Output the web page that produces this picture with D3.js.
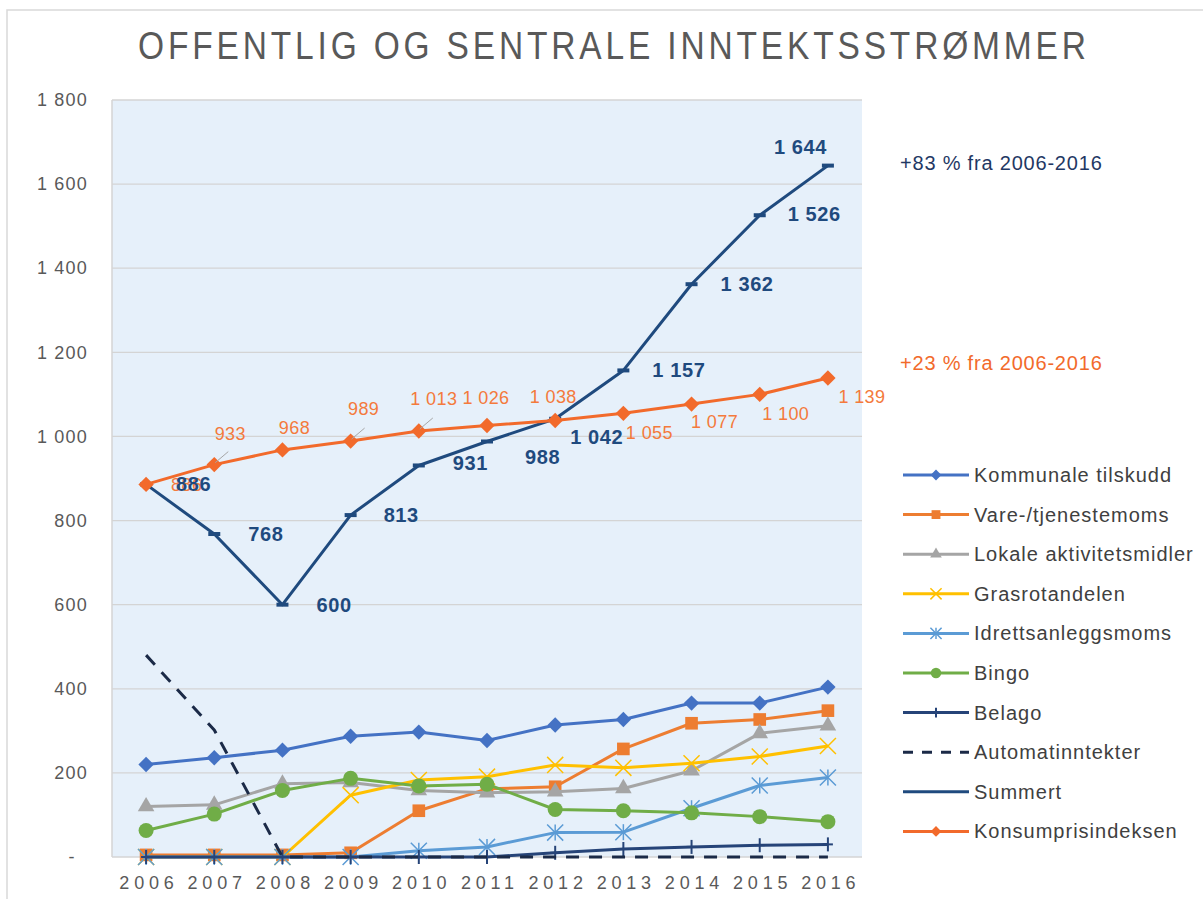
<!DOCTYPE html>
<html>
<head>
<meta charset="utf-8">
<script src="https://cdn.jsdelivr.net/npm/d3@7"></script>
<style>
  body { margin: 0; background: #fff; }
  svg { display: block; font-family: "Liberation Sans", Arial, sans-serif; }
</style>
</head>
<body>
<svg id="chart" width="1203" height="899"></svg>
<script>
// --- data ---
const years = [2006, 2007, 2008, 2009, 2010, 2011, 2012, 2013, 2014, 2015, 2016];

const kommunaleTilskudd = [220, 236, 254, 287, 297, 277, 314, 327, 366, 366, 404];
const vareTjenestemoms = [5, 5, 5, 10, 110, 162, 167, 257, 318, 327, 348];
const lokaleAktivitetsmidler = [120, 124, 174, 177, 158, 153, 155, 163, 205, 294, 312];
const grasrotandelen = [0, 0, 0, 147, 183, 191, 219, 212, 223, 239, 264];
const idrettsanleggsmoms = [0, 0, 0, 0, 15, 24, 58, 59, 116, 170, 189];
const bingo = [63, 102, 158, 187, 169, 173, 113, 110, 105, 96, 84];
const belago = [0, 0, 0, 0, 0, 0, 10, 19, 24, 28, 30];
const automatinntekter = [480, 302, 0, 0, 0, 0, 0, 0, 0, 0, 0];
const summert = [886, 768, 600, 813, 931, 988, 1042, 1157, 1362, 1526, 1644];
const konsumprisindeksen = [886, 933, 968, 989, 1013, 1026, 1038, 1055, 1077, 1100, 1139];

const yTicks = [0, 200, 400, 600, 800, 1000, 1200, 1400, 1600, 1800];

const series = [
    { name: "Kommunale tilskudd", values: kommunaleTilskudd, color: "#4472C4", marker: "diamond" },
    { name: "Vare-/tjenestemoms", values: vareTjenestemoms, color: "#ED7D31", marker: "square" },
    { name: "Lokale aktivitetsmidler", values: lokaleAktivitetsmidler, color: "#A5A5A5", marker: "triangle" },
    { name: "Grasrotandelen", values: grasrotandelen, color: "#FFC000", marker: "times" },
    { name: "Idrettsanleggsmoms", values: idrettsanleggsmoms, color: "#5B9BD5", marker: "star" },
    { name: "Bingo", values: bingo, color: "#70AD47", marker: "circle" },
    { name: "Belago", values: belago, color: "#264478", marker: "plus" },
    { name: "Automatinntekter", values: automatinntekter, color: "#1B2A47", marker: "none", dash: "13,10" },
    { name: "Summert", values: summert, color: "#1F4A7E", marker: "dash" },
    { name: "Konsumprisindeksen", values: konsumprisindeksen, color: "#F26A2B", marker: "diamond" }
];

// --- layout ---
let svg = d3.select("#chart");

const plot = { left: 112, right: 862, top: 100, bottom: 857 };

let x = d3.scalePoint()
    .domain(years)
    .range([plot.left, plot.right])
    .padding(0.5);

let y = d3.scaleLinear()
    .domain([0, 1800])
    .range([plot.bottom, plot.top]);

const numFmt = function (v) {
    return d3.format(",")(v).replace(/,/g, " ");
};

// outer chart border
svg.append("rect")
    .attr("x", 7)
    .attr("y", 10)
    .attr("width", 1220)
    .attr("height", 920)
    .attr("fill", "none")
    .attr("stroke", "#D9D9D9")
    .attr("stroke-width", 1.5);

// title (narrow glyphs, some tracking)
svg.append("text")
    .attr("transform", "translate(612,59) scale(0.86,1)")
    .attr("text-anchor", "middle")
    .attr("font-size", 39)
    .attr("fill", "#595959")
    .attr("textLength", 948 / 0.86)
    .attr("lengthAdjust", "spacing")
    .text("OFFENTLIG OG SENTRALE INNTEKTSSTRØMMER");

// plot background
svg.append("rect")
    .attr("x", plot.left)
    .attr("y", plot.top)
    .attr("width", plot.right - plot.left)
    .attr("height", plot.bottom - plot.top)
    .attr("fill", "#E6F0FA");

// gridlines
svg.append("g")
    .selectAll("line")
    .data(yTicks.filter(function (d) { return d > 0; }))
    .join("line")
    .attr("x1", plot.left)
    .attr("x2", plot.right)
    .attr("y1", function (d) { return y(d); })
    .attr("y2", function (d) { return y(d); })
    .attr("stroke", "#D4D4D4")
    .attr("stroke-width", 1.3);

// axis lines
svg.append("line")
    .attr("x1", plot.left).attr("x2", plot.left)
    .attr("y1", plot.top).attr("y2", plot.bottom)
    .attr("stroke", "#D4D4D4").attr("stroke-width", 1.5);
svg.append("line")
    .attr("x1", plot.left).attr("x2", plot.right)
    .attr("y1", plot.bottom).attr("y2", plot.bottom)
    .attr("stroke", "#D4D4D4").attr("stroke-width", 1.5);

// y axis labels
let yAxis = d3.axisLeft(y)
    .tickValues(yTicks)
    .tickSize(0)
    .tickPadding(0)
    .tickFormat(function (d) { return d === 0 ? "-  " : numFmt(d); });

let yg = svg.append("g")
    .attr("transform", "translate(88,0)")
    .call(yAxis);
yg.select(".domain").remove();
yg.selectAll("text")
    .attr("font-size", 18)
    .attr("font-family", "Liberation Sans, Arial, sans-serif")
    .attr("letter-spacing", 1.2)
    .attr("fill", "#595959")
    .style("white-space", "pre");

// x axis labels
let xAxis = d3.axisBottom(x)
    .tickSize(0)
    .tickPadding(0);

let xg = svg.append("g")
    .attr("transform", "translate(0," + plot.bottom + ")")
    .call(xAxis);
xg.select(".domain").remove();
xg.selectAll("text")
    .attr("y", 19)
    .attr("font-size", 18)
    .attr("font-family", "Liberation Sans, Arial, sans-serif")
    .attr("letter-spacing", 4.8)
    .attr("dx", 2.4)
    .attr("fill", "#595959");

// marker shapes
function drawMarker(sel, type, color, scale) {
    const s = scale || 1;
    if (type === "diamond") {
        sel.append("path")
            .attr("d", d3.symbol(d3.symbolSquare, 118 * s * s)())
            .attr("transform", "rotate(45)")
            .attr("fill", color);
    } else if (type === "square") {
        sel.append("path")
            .attr("d", d3.symbol(d3.symbolSquare, 160 * s * s)())
            .attr("fill", color);
    } else if (type === "triangle") {
        sel.append("path")
            .attr("d", d3.symbol(d3.symbolTriangle, 120 * s * s)())
            .attr("fill", color);
    } else if (type === "circle") {
        sel.append("circle")
            .attr("r", 7.5 * s)
            .attr("fill", color);
    } else if (type === "times") {
        sel.append("path")
            .attr("d", d3.symbol(d3.symbolTimes, 170 * s * s)())
            .attr("fill", "none")
            .attr("stroke", color)
            .attr("stroke-width", 1.5);
    } else if (type === "star") {
        sel.append("path")
            .attr("d", d3.symbol(d3.symbolTimes, 170 * s * s)())
            .attr("fill", "none")
            .attr("stroke", color)
            .attr("stroke-width", 1.5);
        sel.append("line")
            .attr("y1", -8 * s).attr("y2", 8 * s)
            .attr("stroke", color)
            .attr("stroke-width", 1.5);
    } else if (type === "plus") {
        sel.append("line")
            .attr("y1", -7 * s).attr("y2", 7 * s)
            .attr("stroke", color)
            .attr("stroke-width", 2);
        sel.append("line")
            .attr("x1", -5 * s).attr("x2", 5 * s)
            .attr("stroke", color)
            .attr("stroke-width", 2);
    } else if (type === "dash") {
        sel.append("rect")
            .attr("x", -6).attr("y", -2)
            .attr("width", 12).attr("height", 4)
            .attr("fill", color);
    }
}

// lines and markers
let line = d3.line()
    .x(function (d, i) { return x(years[i]); })
    .y(function (d) { return y(d); });

let seriesG = svg.append("g")
    .selectAll("g")
    .data(series)
    .join("g");

seriesG.append("path")
    .attr("d", function (d) { return line(d.values); })
    .attr("fill", "none")
    .attr("stroke", function (d) { return d.color; })
    .attr("stroke-width", 3)
    .attr("stroke-linejoin", "round")
    .attr("stroke-dasharray", function (d) { return d.dash || null; });

seriesG.each(function (s) {
    if (s.marker === "none") return;
    d3.select(this).selectAll(".pt")
        .data(s.values)
        .join("g")
        .attr("class", "pt")
        .attr("transform", function (d, i) {
            return "translate(" + x(years[i]) + "," + y(d) + ")";
        })
        .each(function () {
            drawMarker(d3.select(this), s.marker, s.color, 1);
        });
});

// data labels for Konsumprisindeksen (manually placed, some with leader lines)
const kpiLabelOffset = [[25, 0], [16, -31], [12, -22], [13, -32], [15, -32], [-1, -28], [-2, -24], [26, 19], [23, 18], [26, 19], [34, 19]];
const kpiLeader = [false, true, false, true, true, false, false, false, false, false, false];

svg.append("g")
    .selectAll("line")
    .data(konsumprisindeksen)
    .join("line")
    .attr("x1", function (d, i) { return x(years[i]) + 1; })
    .attr("y1", function (d) { return y(d) - 2; })
    .attr("x2", function (d, i) { return x(years[i]) + 14; })
    .attr("y2", function (d) { return y(d) - 13; })
    .attr("stroke", "#A6A6A6")
    .attr("stroke-width", 1)
    .attr("display", function (d, i) { return kpiLeader[i] ? null : "none"; });

svg.append("g")
    .selectAll("text")
    .data(konsumprisindeksen)
    .join("text")
    .attr("x", function (d, i) { return x(years[i]) + kpiLabelOffset[i][0]; })
    .attr("y", function (d, i) { return y(d) + kpiLabelOffset[i][1]; })
    .attr("dy", "0.35em")
    .attr("text-anchor", function (d, i) { return i === 0 ? "start" : "middle"; })
    .attr("font-size", 18)
    .attr("letter-spacing", 0.4)
    .attr("fill", "#F47A3C")
    .text(function (d) { return numFmt(d); });

// data labels for Summert
const sumLabelOffset = [[30, 0], [34, 0], [34, 0], [33, 0], [34, -2], [38, 16], [15, 18], [29, 0], [29, 0], [28, -1], [-54, -19]];

svg.append("g")
    .selectAll("text")
    .data(summert)
    .join("text")
    .attr("x", function (d, i) { return x(years[i]) + sumLabelOffset[i][0]; })
    .attr("y", function (d, i) { return y(d) + sumLabelOffset[i][1]; })
    .attr("dy", "0.35em")
    .attr("font-size", 20)
    .attr("font-weight", "bold")
    .attr("letter-spacing", 0.6)
    .attr("fill", "#1F4A7E")
    .text(function (d) { return numFmt(d); });

// growth annotations
svg.append("text")
    .attr("x", 900)
    .attr("y", 170)
    .attr("font-size", 20)
    .attr("letter-spacing", 0.8)
    .attr("fill", "#1F3864")
    .text("+83 % fra 2006-2016");

svg.append("text")
    .attr("x", 900)
    .attr("y", 370)
    .attr("font-size", 20)
    .attr("letter-spacing", 0.8)
    .attr("fill", "#F26A2B")
    .text("+23 % fra 2006-2016");

// legend
let legend = svg.append("g")
    .attr("transform", "translate(903,475)");

let legendItem = legend.selectAll("g")
    .data(series)
    .join("g")
    .attr("transform", function (d, i) { return "translate(0," + (i * 39.6) + ")"; });

legendItem.append("line")
    .attr("x1", 0)
    .attr("x2", 66)
    .attr("stroke", function (d) { return d.color; })
    .attr("stroke-width", 3)
    .attr("stroke-dasharray", function (d) { return d.dash ? "10,9" : null; });

legendItem.each(function (s) {
    if (s.marker === "none" || s.marker === "dash") return;
    let m = d3.select(this).append("g").attr("transform", "translate(33,0)");
    drawMarker(m, s.marker, s.color, 0.7);
});

legendItem.append("text")
    .attr("x", 71)
    .attr("dy", "0.35em")
    .attr("font-size", 20)
    .attr("letter-spacing", 1)
    .attr("fill", "#404040")
    .text(function (d) { return d.name; });
</script>
</body>
</html>
